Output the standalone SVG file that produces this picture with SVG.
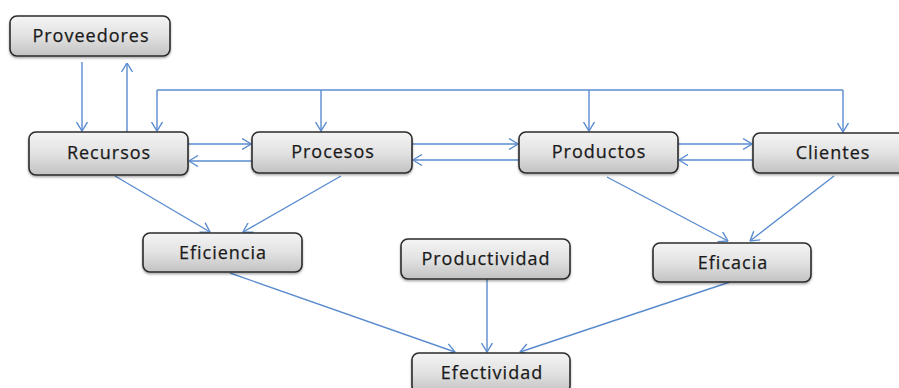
<svg xmlns="http://www.w3.org/2000/svg" width="899" height="388" viewBox="0 0 899 388">
  <defs>
    <linearGradient id="boxFill" x1="0" y1="0" x2="0" y2="1">
      <stop offset="0" stop-color="#f4f4f4"/>
      <stop offset="0.5" stop-color="#e2e2e2"/>
      <stop offset="1" stop-color="#c2c2c2"/>
    </linearGradient>
    <filter id="shadow" x="-10%" y="-20%" width="120%" height="150%">
      <feDropShadow dx="0" dy="1.5" stdDeviation="1.2" flood-color="#000" flood-opacity="0.35"/>
    </filter>
    <marker id="arrow" viewBox="0 0 10 12" refX="9.5" refY="6" markerWidth="10" markerHeight="12" markerUnits="userSpaceOnUse" orient="auto">
      <path d="M0.5,0.5 L9.5,6 L0.5,11.5" fill="none" stroke="#5b8cd0" stroke-width="1.4"/>
    </marker>
  </defs>
  <style>
    .box { fill: url(#boxFill); stroke: #2b2b2b; stroke-width: 1.6; filter: url(#shadow); }
    .label { font-family: "Open Sans", "Liberation Sans", sans-serif; font-size: 18px; letter-spacing: 1px; fill: #1a1a1a; stroke: #1a1a1a; stroke-width: 0.25; text-anchor: middle; }
    .conn { fill: none; stroke: #5b8cd0; stroke-width: 1.4; }
    .arr { marker-end: url(#arrow); }
  </style>

  <rect width="899" height="388" fill="#ffffff"/>

  <!-- connectors -->
  <g id="connectors">
    <path class="conn arr" d="M82,62 V131"/>
    <path class="conn arr" d="M127,132 V63"/>
    <path class="conn" d="M157,90 H843"/>
    <path class="conn arr" d="M157,90 V131"/>
    <path class="conn arr" d="M321,90 V131"/>
    <path class="conn arr" d="M589,90 V131"/>
    <path class="conn arr" d="M843,90 V132"/>
    <path class="conn arr" d="M188,144 H251"/>
    <path class="conn arr" d="M252,161 H189"/>
    <path class="conn arr" d="M412,144 H518"/>
    <path class="conn arr" d="M519,160 H413"/>
    <path class="conn arr" d="M678,144 H752"/>
    <path class="conn arr" d="M753,160 H679"/>
    <path class="conn arr" d="M115,176 L210,232"/>
    <path class="conn arr" d="M341,176 L243,232"/>
    <path class="conn arr" d="M607,177 L728,241"/>
    <path class="conn arr" d="M834,176 L750,241"/>
    <path class="conn arr" d="M230,273 L455,352"/>
    <path class="conn arr" d="M487,279 V352"/>
    <path class="conn arr" d="M730,282 L520,352"/>
  </g>

  <!-- nodes -->
  <g id="proveedores">
    <rect class="box" x="10" y="16" width="160" height="40" rx="7"/>
    <text class="label" x="91" y="42">Proveedores</text>
  </g>
  <g id="recursos">
    <rect class="box" x="29" y="132" width="159" height="43" rx="7"/>
    <text class="label" x="109" y="159">Recursos</text>
  </g>
  <g id="procesos">
    <rect class="box" x="252" y="132" width="160" height="41" rx="7"/>
    <text class="label" x="333" y="158">Procesos</text>
  </g>
  <g id="productos">
    <rect class="box" x="519" y="132" width="159" height="41" rx="7"/>
    <text class="label" x="599" y="158">Productos</text>
  </g>
  <g id="clientes">
    <rect class="box" x="753" y="133" width="159" height="40" rx="7"/>
    <text class="label" x="833" y="159">Clientes</text>
  </g>
  <g id="eficiencia">
    <rect class="box" x="143" y="233" width="159" height="39" rx="7"/>
    <text class="label" x="223" y="259">Eficiencia</text>
  </g>
  <g id="productividad">
    <rect class="box" x="401" y="239" width="169" height="40" rx="7"/>
    <text class="label" x="486" y="265">Productividad</text>
  </g>
  <g id="eficacia">
    <rect class="box" x="653" y="243" width="158" height="39" rx="7"/>
    <text class="label" x="733" y="269">Eficacia</text>
  </g>
  <g id="efectividad">
    <rect class="box" x="412" y="353" width="158" height="40" rx="7"/>
    <text class="label" x="492" y="379">Efectividad</text>
  </g>
</svg>
